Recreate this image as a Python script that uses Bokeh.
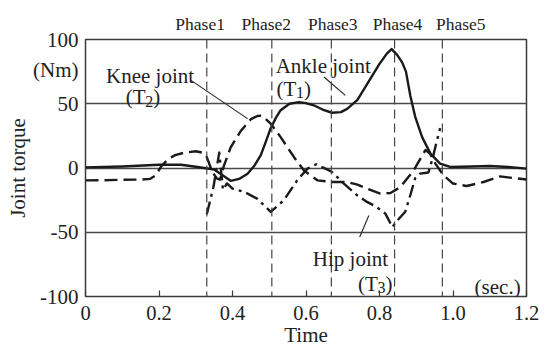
from bokeh.plotting import figure
from bokeh.models import Range1d, FixedTicker, LinearAxis, Span, Label
from bokeh.embed import file_html
from bokeh.resources import INLINE

FONT = "Liberation Serif"
INK = "#1a1a1a"
TXT = "#222222"

# ---- data ----
t_ankle = [0, 0.1, 0.2, 0.26, 0.3, 0.35, 0.375, 0.395, 0.418, 0.441, 0.46, 0.477, 0.49, 0.504,
           0.518, 0.531, 0.555, 0.581, 0.60, 0.621, 0.645, 0.671, 0.695, 0.712, 0.74, 0.77, 0.80,
           0.82, 0.833, 0.848, 0.862, 0.872, 0.884, 0.897, 0.916, 0.939, 0.965, 0.992, 1.05, 1.1,
           1.15, 1.2]
ankle = [0.5, 1.2, 2.5, 2.5, 1.0, -1.2, -6, -10, -8.5, -4.4, 2, 10, 20, 31,
         39, 45, 50, 51.3, 50.5, 48.8, 45.5, 43, 43.5, 46, 53, 67, 81,
         89, 92.5, 88, 82, 75, 56, 40, 24, 11, 3.4, 0.8, 1.2, 1.6,
         0.8, -0.5]

t_knee = [0, 0.05, 0.1, 0.15, 0.175, 0.19, 0.208, 0.226, 0.244, 0.27, 0.3, 0.318, 0.328, 0.345,
          0.357, 0.366, 0.377, 0.395, 0.423, 0.45, 0.468, 0.48, 0.504, 0.531, 0.567, 0.594, 0.631,
          0.671, 0.712, 0.74, 0.766, 0.802, 0.83, 0.857, 0.893, 0.925, 0.938, 0.952, 0.974, 1.0,
          1.037, 1.083, 1.128, 1.155, 1.2]
knee = [-9.6, -9.5, -9.2, -9, -8.5, -6, 2, 7, 10, 12, 13, 12, 10, -3,
        -8, -9, 2, 16, 29, 38, 40.5, 40.8, 34.5, 24, 8.6, -1.8, -9.6,
        -10.9, -10.9, -13, -16, -19.9, -19.4, -14.8, -1.8, 14, 11, 3.4, -5.7, -12.1,
        -14, -10.9, -6.5, -7.5, -9]

t_hip = [0.330, 0.348, 0.364, 0.374, 0.385, 0.40, 0.432, 0.468, 0.504, 0.54, 0.576, 0.604, 0.628,
         0.653, 0.671, 0.703, 0.739, 0.766, 0.79, 0.816, 0.835, 0.845, 0.87, 0.884, 0.897, 0.91,
         0.933, 0.945, 0.955, 0.965]
hip = [-36, -15, 12, -17, -12, -16, -18.6, -24, -34.2, -25, -9.6, -0.5, 2.9,
       -0.5, -3.1, -12.1, -21.2, -26.4, -30, -35.5, -46, -42, -34, -21, -8, -4.4,
       -3.5, 8, 20, 31]

phase_bounds = [0.330, 0.507, 0.669, 0.841, 0.971]
phase_names = ["Phase1", "Phase2", "Phase3", "Phase4", "Phase5"]
phase_label_pos = [0.312, 0.492, 0.673, 0.849, 1.021]

x_ticks = [0, 0.2, 0.4, 0.6, 0.8, 1.0, 1.2]
x_tick_labels = ["0", "0.2", "0.4", "0.6", "0.8", "1.0", "1.2"]
y_ticks = [-100, -50, 0, 50, 76, 100]
y_tick_labels = ["-100", "-50", "0", "50", "(Nm)", "100"]
grid_levels = [-50, 0, 50]

# annotation texts (position in data units)
ann_text = ["Knee joint", "Ankle joint", "Hip joint", "(sec.)"]
ann_x = [0.1756, 0.5175, 0.721, 1.184]
ann_y = [71.3, 79.1, -71.2, -92.5]
ann_align = ["center", "left", "center", "right"]

# torque symbols (T with subscript), left-anchored
sym_index = ["2", "1", "3"]
sym_x = [0.1094, 0.520, 0.7416]
sym_y = [55.2, 61.7, -89.9]

# leader lines
lead_x0 = [0.287, 0.649, 0.771]
lead_y0 = [68.2, 70.8, -36.9]
lead_x1 = [0.441, 0.707, 0.746]
lead_y1 = [38.4, 56.5, -53.7]

# ---- figure ----
p = figure(width=549, height=349, output_backend="svg", toolbar_location=None,
           x_range=Range1d(0, 1.2), y_range=Range1d(-100, 100),
           min_border_left=85, min_border_right=23, min_border_top=39, min_border_bottom=53,
           x_axis_label="Time", y_axis_label="Joint torque")
p.background_fill_color = "white"
p.border_fill_color = "white"
p.outline_line_color = "#3a3a3a"
p.outline_line_width = 1.5

# grid
p.xgrid.visible = False
p.ygrid.ticker = FixedTicker(ticks=grid_levels)
p.ygrid.grid_line_color = "#4a4a4a"
p.ygrid.grid_line_width = 1.3

# x axis
xa = p.xaxis[0]
xa.ticker = FixedTicker(ticks=x_ticks)
xa.major_label_overrides = {k: v for k, v in zip(x_ticks, x_tick_labels)}
xa.major_tick_in = 6
xa.major_tick_out = 0
xa.major_tick_line_color = "#3a3a3a"
xa.major_tick_line_width = 1.2
xa.minor_tick_line_color = None
xa.minor_tick_in = 0
xa.minor_tick_out = 0
xa.axis_line_color = None
xa.major_label_text_font = FONT
xa.major_label_text_font_size = "20.5px"
xa.major_label_text_color = TXT
xa.major_label_standoff = 9
xa.axis_label_text_font = FONT
xa.axis_label_text_font_size = "21px"
xa.axis_label_text_font_style = "normal"
xa.axis_label_text_color = TXT
xa.axis_label_standoff = 0

# y axis
ya = p.yaxis[0]
ya.ticker = FixedTicker(ticks=y_ticks)
ya.major_label_overrides = {k: v for k, v in zip(y_ticks, y_tick_labels)}
ya.major_tick_line_color = None
ya.major_tick_in = 0
ya.major_tick_out = 0
ya.minor_tick_line_color = None
ya.minor_tick_in = 0
ya.minor_tick_out = 0
ya.axis_line_color = None
ya.major_label_text_font = FONT
ya.major_label_text_font_size = "21px"
ya.major_label_text_color = TXT
ya.major_label_standoff = 7
ya.axis_label_text_font = FONT
ya.axis_label_text_font_size = "21px"
ya.axis_label_text_font_style = "normal"
ya.axis_label_text_color = TXT
ya.axis_label_standoff = 0

# phase labels on top
top = LinearAxis(ticker=FixedTicker(ticks=phase_label_pos),
                 major_label_overrides={k: v for k, v in zip(phase_label_pos, phase_names)},
                 axis_line_color=None, major_tick_line_color=None, minor_tick_line_color=None,
                 major_tick_in=0, major_tick_out=0, minor_tick_in=0, minor_tick_out=0,
                 major_label_text_font=FONT, major_label_text_font_size="17.5px",
                 major_label_text_color=TXT, major_label_standoff=6)
p.add_layout(top, "above")

# phase boundaries
for b in phase_bounds:
    p.add_layout(Span(location=b, dimension="height", line_color="#444444",
                      line_width=1.2, line_dash="9 5"))

# curves
p.line(t_ankle, ankle, line_color=INK, line_width=2.4, line_join="round")
p.line(t_knee, knee, line_color=INK, line_width=2.4, line_dash="13 6", line_join="round")
p.line(t_hip, hip, line_color=INK, line_width=2.4, line_dash="13 5 3 5", line_join="round")

# leaders
p.segment(x0=lead_x0, y0=lead_y0, x1=lead_x1, y1=lead_y1, line_color=TXT, line_width=1.1)

# annotation labels
for txt, x, y, al in zip(ann_text, ann_x, ann_y, ann_align):
    p.add_layout(Label(x=x, y=y, text=txt, text_font=FONT, text_font_size="21px",
                       text_align=al, text_baseline="alphabetic", text_color=TXT))

# (T_i) symbols built from three pieces
for idx, x, y in zip(sym_index, sym_x, sym_y):
    p.add_layout(Label(x=x, y=y, text="(T", text_font=FONT, text_font_size="21px",
                       text_align="left", text_baseline="alphabetic", text_color=TXT))
    p.add_layout(Label(x=x, y=y, x_offset=19.5, y_offset=-4, text=idx, text_font=FONT,
                       text_font_size="16px", text_align="left", text_baseline="alphabetic",
                       text_color=TXT))
    p.add_layout(Label(x=x, y=y, x_offset=27.5, text=")", text_font=FONT, text_font_size="21px",
                       text_align="left", text_baseline="alphabetic", text_color=TXT))

open("out.html", "w").write(file_html(p, INLINE))
